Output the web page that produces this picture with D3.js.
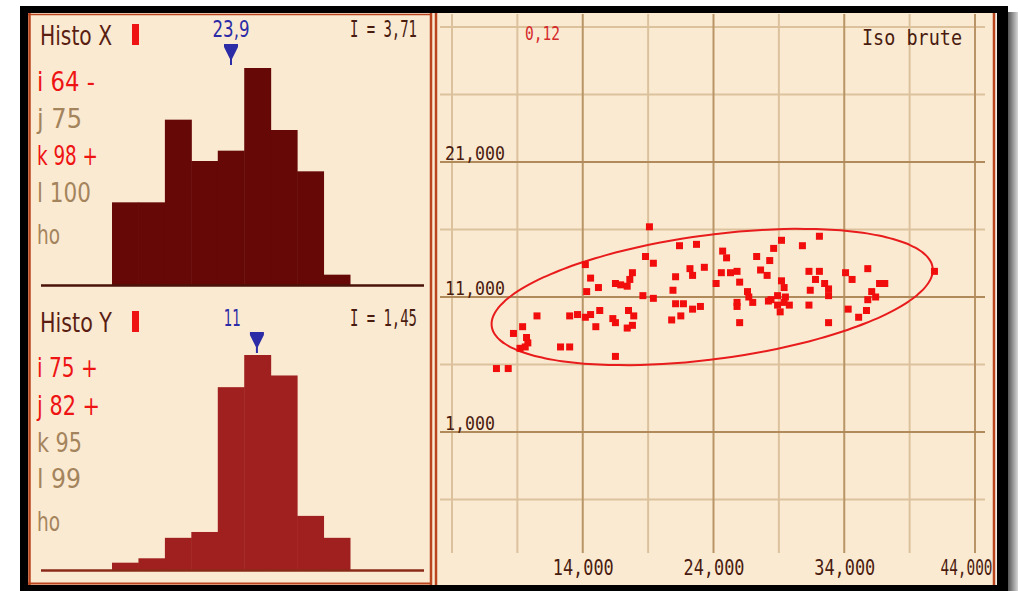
<!DOCTYPE html>
<html>
<head>
<meta charset="utf-8">
<script src="https://cdnjs.cloudflare.com/ajax/libs/d3/7.8.5/d3.min.js"></script>
<style>
  html, body { margin: 0; padding: 0; background: #ffffff; }
  svg { display: block; }
</style>
</head>
<body>
<svg id="chart" width="1018" height="591"></svg>
<script>
// ---------------- DATA ----------------
// Histogram X (counts per bin, 9 bins)
const histXCounts = [8, 8, 16, 12, 13, 21, 15, 11, 1];
// Histogram Y (relative frequencies per bin, 9 bins)
const histYCounts = [1, 1.6, 4.4, 5.2, 25, 29.4, 26.6, 7.4, 4.4];
const histXTitle = "Histo X";
const histYTitle = "Histo Y";
const histXMeanLabel = "23,9";
const histYMeanLabel = "11";
const histXMarker = 4.5;   // marker position, in bin units
const histYMarker = 5.48;
const histXMeanPos = 4.5;
const histYMeanPos = 4.55;
const histXIndex = "I = 3,71";
const histYIndex = "I = 1,45";
const histXStats = ["i 64 -", "j 75", "k 98 +", "l 100", "ho"];
const histXStatRed = [true, false, true, false, false];
const histYStats = ["i 75 +", "j 82 +", "k 95", "l 99", "ho"];
const histYStatRed = [true, true, false, false, false];

// Scatter
const scatterX = [7400, 8300, 8700, 9200, 9600, 9700, 9800, 9400, 10500, 12300, 13000, 13000, 13600, 14200, 14600, 15300,
  14200, 14600, 15200, 14300, 16500, 16900, 17400, 17600, 17800, 15000, 16300, 16500, 17500, 17900, 17400, 17800, 16500,
  19100, 18800, 19400, 18600, 19400, 20900, 21100, 21400, 22700, 22200, 22400, 23300, 21100, 21700, 22400, 23000, 21500, 20800,
  24700, 25000, 24600, 25300, 25800, 26000, 24200, 25800, 25800, 26600, 26700, 27000, 26000,
  27300, 27600, 28100, 28300, 28600, 29200, 29200, 29400, 28200, 28900, 28900, 29100,
  32100, 30800, 31300, 32100, 31800, 29500, 29800, 29400, 28400, 31400, 32500, 32800, 32800, 31300,
  34100, 34600, 34300, 32800, 35800, 36700, 37100, 36100, 36400, 35800, 35700, 35100, 40900];
const scatterY = [5700, 5700, 8300, 7200, 7300, 8000, 7600, 8800, 9600, 7300, 7300, 9600, 9700, 9500, 9700, 10000,
  13400, 12400, 11700, 11400, 12000, 11900, 11800, 12300, 12800, 8800, 9400, 9100, 10000, 9600, 8700, 8900, 6600,
  16200, 14000, 13500, 11100, 10900, 11500, 12500, 14800, 14900, 13100, 12600, 13200, 10500, 10500, 10100, 10300, 9600, 9300,
  14400, 13900, 12800, 12800, 12900, 12100, 12000, 10600, 10300, 11400, 11000, 10600, 9100,
  14000, 13000, 12600, 13700, 14600, 15200, 12200, 11700, 10700, 11100, 10400, 9900,
  15500, 14800, 12900, 12900, 12300, 11000, 10400, 10600, 10800, 11500, 12000, 11600, 11100, 10400,
  12800, 12300, 10100, 9100, 13100, 12000, 12000, 11400, 11000, 10800, 10000, 9500, 12900];
const xTicks = [14000, 24000, 34000, 44000];
const xMinor = [4000, 9000, 19000, 29000, 39000];
const yTicks = [1000, 11000, 21000];
const yMinor = [-4000, 6000, 16000, 26000, 31000];
const corrLabel = "0,12";
const scatterTitle = "Iso brute";
// Ellipse (centre, semi-axes in data units, angle in degrees)
const ellipseCenter = [23900, 11000];
const ellipseAxes = [17000, 4600];
const ellipseAngle = 7.3;

// ---------------- COLOURS ----------------
const CREAM = "#fbead2";
const FRAME = "#b8451e";
const RED = "#ee1414";
const TAN = "#a4845c";
const DARK = "#4a1c10";
const BLUE = "#2c2ca6";

const svg = d3.select("#chart");
const defs = svg.append("defs");

// shadow gradient
const grad = defs.append("linearGradient").attr("id", "shadow").attr("x1", 0).attr("x2", 1).attr("y1", 0).attr("y2", 0);
grad.append("stop").attr("offset", "0%").attr("stop-color", "#3a3a3a");
grad.append("stop").attr("offset", "100%").attr("stop-color", "#d8d8d8");

svg.append("rect").attr("x", 1006).attr("y", 12).attr("width", 12).attr("height", 579).attr("fill", "url(#shadow)");

// outer black frame
svg.append("rect").attr("x", 20).attr("y", 6).attr("width", 988).attr("height", 585).attr("fill", "#000");
// cream inside
svg.append("rect").attr("x", 28).attr("y", 13).attr("width", 969).attr("height", 572).attr("fill", CREAM);
// light gap before right black border
svg.append("rect").attr("x", 995).attr("y", 13).attr("width", 3).attr("height", 572).attr("fill", "#f4efe8");
svg.append("rect").attr("x", 997).attr("y", 13).attr("width", 1).attr("height", 572).attr("fill", "#000");

// panel frames
function line(x1, y1, x2, y2, col, w) {
  svg.append("line").attr("x1", x1).attr("y1", y1).attr("x2", x2).attr("y2", y2)
    .attr("stroke", col).attr("stroke-width", w);
}
line(29.5, 13, 29.5, 585, FRAME, 2.5);
line(28, 14.5, 431, 14.5, FRAME, 1.5);
line(28, 583.5, 431, 583.5, FRAME, 2);
line(431, 13, 431, 585, FRAME, 2.5);
line(436, 13, 436, 585, FRAME, 2.5);
line(994, 13, 994, 585, FRAME, 2.5);

// text helper
function txt(x, y, s, o) {
  const t = svg.append("text").attr("x", x).attr("y", y).text(s)
    .attr("font-family", o.family || "DejaVu Sans")
    .attr("font-size", o.size)
    .attr("fill", o.fill)
    .attr("text-anchor", o.anchor || "start");
  if (o.len) t.attr("textLength", o.len).attr("lengthAdjust", "spacingAndGlyphs");
  return t;
}

function marker(cx, top) {
  const p = d3.path();
  p.moveTo(cx - 7, top);
  p.lineTo(cx + 7, top);
  p.lineTo(cx + 7, top + 3);
  p.lineTo(cx + 1, top + 15);
  p.lineTo(cx + 1, top + 21);
  p.lineTo(cx - 1, top + 21);
  p.lineTo(cx - 1, top + 15);
  p.lineTo(cx - 7, top + 3);
  p.closePath();
  svg.append("path").attr("d", p.toString()).attr("fill", BLUE);
}

// ---------------- HISTOGRAMS ----------------
function histogram(cfg) {
  const xs = d3.scaleLinear().domain([0, cfg.counts.length]).range([112, 350]);
  const ys = d3.scaleLinear().domain([0, d3.max(cfg.counts)]).range([cfg.base, cfg.top]);
  svg.append("g").selectAll("rect").data(cfg.counts).join("rect")
    .attr("x", (d, i) => xs(i))
    .attr("width", (d, i) => xs(i + 1) - xs(i) + 0.5)
    .attr("y", d => ys(d))
    .attr("height", d => cfg.base - ys(d))
    .attr("fill", cfg.color);
  line(41, cfg.base + 0.5, 424, cfg.base + 0.5, cfg.baseColor, 2.5);

  txt(40, cfg.titleY, cfg.title, { size: 27, fill: "#5a1e12", len: 72 });
  svg.append("rect").attr("x", 132).attr("y", cfg.titleY - 21).attr("width", 7).attr("height", 21).attr("fill", RED);
  txt(xs(cfg.meanPos), cfg.meanY, cfg.meanLabel, { size: 23, fill: BLUE, anchor: "middle", len: cfg.meanLen });
  marker(xs(cfg.marker), cfg.markerTop);
  txt(417, cfg.meanY, cfg.index, { size: 23, fill: DARK, anchor: "end", len: 67, family: "DejaVu Sans Mono" });

  cfg.stats.forEach((s, i) => {
    txt(37, cfg.statY[i], s, {
      size: 26, fill: cfg.statRed[i] ? RED : TAN, len: cfg.statLen[i]
    });
  });
}

histogram({
  counts: histXCounts, base: 285, top: 68, color: "#650806", baseColor: "#4a1208",
  title: histXTitle, titleY: 45, meanLabel: histXMeanLabel, meanPos: histXMeanPos, meanY: 37, meanLen: 37,
  marker: histXMarker, markerTop: 44, index: histXIndex,
  stats: histXStats, statRed: histXStatRed, statY: [91, 128, 165, 202, 244],
  statLen: [58, 45, 61, 54, 23]
});
histogram({
  counts: histYCounts, base: 570, top: 355, color: "#a01f1f", baseColor: "#8a2a18",
  title: histYTitle, titleY: 332, meanLabel: histYMeanLabel, meanPos: histYMeanPos, meanY: 326, meanLen: 17,
  marker: histYMarker, markerTop: 332, index: histYIndex,
  stats: histYStats, statRed: histYStatRed, statY: [377, 415, 452, 488, 531],
  statLen: [61, 63, 45, 44, 23]
});

// ---------------- SCATTER ----------------
defs.append("clipPath").attr("id", "sc").append("rect")
  .attr("x", 437).attr("y", 13).attr("width", 556).attr("height", 572);
const sc = svg.append("g").attr("clip-path", "url(#sc)");

const x = d3.scaleLinear().domain([4000, 44000]).range([452, 975]);
const y = d3.scaleLinear().domain([1000, 21000]).range([432, 162]);

// grid
sc.append("g").selectAll("line").data(xMinor).join("line")
  .attr("x1", d => x(d)).attr("x2", d => x(d)).attr("y1", 14).attr("y2", 553)
  .attr("stroke", "#dcc29c").attr("stroke-width", 2);
sc.append("g").selectAll("line").data(yMinor).join("line")
  .attr("y1", d => y(d)).attr("y2", d => y(d)).attr("x1", 440).attr("x2", 985)
  .attr("stroke", "#dcc29c").attr("stroke-width", 2);
sc.append("g").selectAll("line").data(xTicks).join("line")
  .attr("x1", d => x(d)).attr("x2", d => x(d)).attr("y1", 14).attr("y2", 553)
  .attr("stroke", "#b89466").attr("stroke-width", 2);
sc.append("g").selectAll("line").data(yTicks).join("line")
  .attr("y1", d => y(d)).attr("y2", d => y(d)).attr("x1", 440).attr("x2", 985)
  .attr("stroke", "#b08a5a").attr("stroke-width", 2);

const fmt = d3.format(",");
const lastTick = xTicks[xTicks.length - 1];
// x axis labels via d3 axis
const xAxis = svg.append("g").attr("transform", "translate(0,575)")
  .call(d3.axisBottom(x).tickValues(xTicks).tickFormat(fmt).tickSize(0).tickPadding(0));
xAxis.select(".domain").remove();
xAxis.selectAll("text")
  .attr("dy", 0).attr("y", 0)
  .attr("font-family", "DejaVu Sans Mono").attr("font-size", 21).attr("fill", DARK)
  .attr("textLength", d => d === lastTick ? 52 : 61).attr("lengthAdjust", "spacingAndGlyphs")
  .attr("text-anchor", d => d === lastTick ? "end" : "middle")
  .attr("x", d => d === lastTick ? 992 - x(d) : 0);

const yAxis = sc.append("g").attr("transform", "translate(445,0)")
  .call(d3.axisRight(y).tickValues(yTicks).tickFormat(fmt).tickSize(0).tickPadding(0));
yAxis.select(".domain").remove();
yAxis.selectAll("text")
  .attr("dy", -3).attr("x", 0)
  .attr("font-family", "DejaVu Sans Mono").attr("font-size", 20).attr("fill", DARK)
  .attr("text-anchor", "start")
  .attr("textLength", d => fmt(d).length * 10).attr("lengthAdjust", "spacingAndGlyphs");

// ellipse
const ang = ellipseAngle * Math.PI / 180;
const ePts = d3.range(0, 360, 3).map(t => {
  const r = t * Math.PI / 180;
  const ex = ellipseAxes[0] * Math.cos(r), ey = ellipseAxes[1] * Math.sin(r);
  return [ellipseCenter[0] + ex * Math.cos(ang) - ey * Math.sin(ang),
          ellipseCenter[1] + ex * Math.sin(ang) + ey * Math.cos(ang)];
});
sc.append("path")
  .attr("d", d3.line().x(d => x(d[0])).y(d => y(d[1])).curve(d3.curveCardinalClosed)(ePts))
  .attr("fill", "none").attr("stroke", "#e81c1c").attr("stroke-width", 2);

// points
const pts = scatterX.map((v, i) => [v, scatterY[i]]);
sc.append("g").selectAll("rect").data(pts).join("rect")
  .attr("x", d => x(d[0]) - 3.5).attr("y", d => y(d[1]) - 3.5)
  .attr("width", 7).attr("height", 7).attr("fill", "#f20d0d");

// labels
sc.append("text").attr("x", 525).attr("y", 40).text(corrLabel)
  .attr("font-family", "DejaVu Sans Mono").attr("font-size", 19).attr("fill", "#d42a2a")
  .attr("textLength", 35).attr("lengthAdjust", "spacingAndGlyphs");
sc.append("text").attr("x", 862).attr("y", 45).text(scatterTitle)
  .attr("font-family", "DejaVu Sans Mono").attr("font-size", 22).attr("fill", DARK)
  .attr("textLength", 100).attr("lengthAdjust", "spacingAndGlyphs");
</script>
</body>
</html>
